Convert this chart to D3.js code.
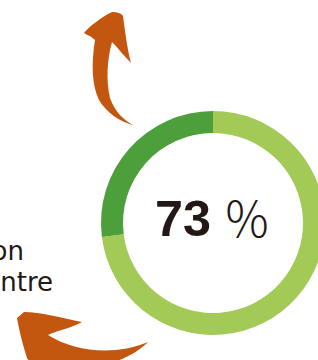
<!DOCTYPE html>
<html>
<head>
<meta charset="utf-8">
<script src="https://cdn.jsdelivr.net/npm/d3@7"></script>
<style>
html,body{margin:0;padding:0;background:#fff;overflow:hidden;}
svg{display:block;}
</style>
</head>
<body>
<svg id="chart" width="318" height="360"></svg>
<script>
// data
const categories = ["Rate", "Rest"];
const values = [73, 27];
const colors = ["#a3c957", "#4c9f3a"];
const centerValue = "73";
const centerUnit = "％";
const sideLabels = ["on", "ntre"];

// decorative arrows (not data)
const arrowPaths = [
  "M112,12 C117,12 121,13 123,16 C125,30 127,48 131,63 C124,56 118,48 112,42 C107,60 106,80 110,98 C115,112 124,120 133,125 C120,122 106,112 99,100 C92,85 91,65 95,40 C91,36 87,35 84,33 C90,26 100,18 112,12 Z",
  "M17,318 L24,312 C40,312 62,318 82,322 C72,328 58,330 48,335 C75,352 115,356 148,342 C130,360 100,370 60,368 L32,366 L27,358 C24,348 20,335 17,318 Z"
];

const svg = d3.select("#chart");
const cx = 213, cy = 223, rOuter = 112, rInner = 90;

const pie = d3.pie().sort(null).value(d => d).startAngle(0).endAngle(2 * Math.PI);
const arc = d3.arc().innerRadius(rInner).outerRadius(rOuter);
const color = d3.scaleOrdinal().domain(categories).range(colors);

const g = svg.append("g").attr("transform", `translate(${cx},${cy})`);
g.selectAll("path")
  .data(pie(values))
  .join("path")
  .attr("d", arc)
  .attr("fill", (d, i) => color(categories[i]));

g.append("text")
  .attr("x", -58)
  .attr("y", 13)
  .attr("textLength", 56)
  .attr("lengthAdjust", "spacingAndGlyphs")
  .attr("fill", "#231815")
  .attr("font-family", "'Liberation Sans', Arial, sans-serif")
  .attr("font-weight", "bold")
  .attr("font-size", 50)
  .text(centerValue);
g.append("text")
  .attr("x", 10)
  .attr("y", 14)
  .attr("fill", "#231815")
  .attr("font-family", "'Noto Sans CJK JP', sans-serif")
  .attr("font-weight", 300)
  .attr("font-size", 48)
  .text(centerUnit);

svg.selectAll("path.arrow")
  .data(arrowPaths)
  .join("path")
  .attr("class", "arrow")
  .attr("d", d => d)
  .attr("fill", "#c4570f");

svg.selectAll("text.side")
  .data(sideLabels)
  .join("text")
  .attr("class", "side")
  .attr("x", (d, i) => i === 0 ? 24 : 53)
  .attr("y", (d, i) => 260 + i * 31)
  .attr("text-anchor", "end")
  .attr("font-family", "'DejaVu Sans', sans-serif")
  .attr("font-size", 26)
  .attr("fill", "#231815")
  .text(d => d);
</script>
</body>
</html>
